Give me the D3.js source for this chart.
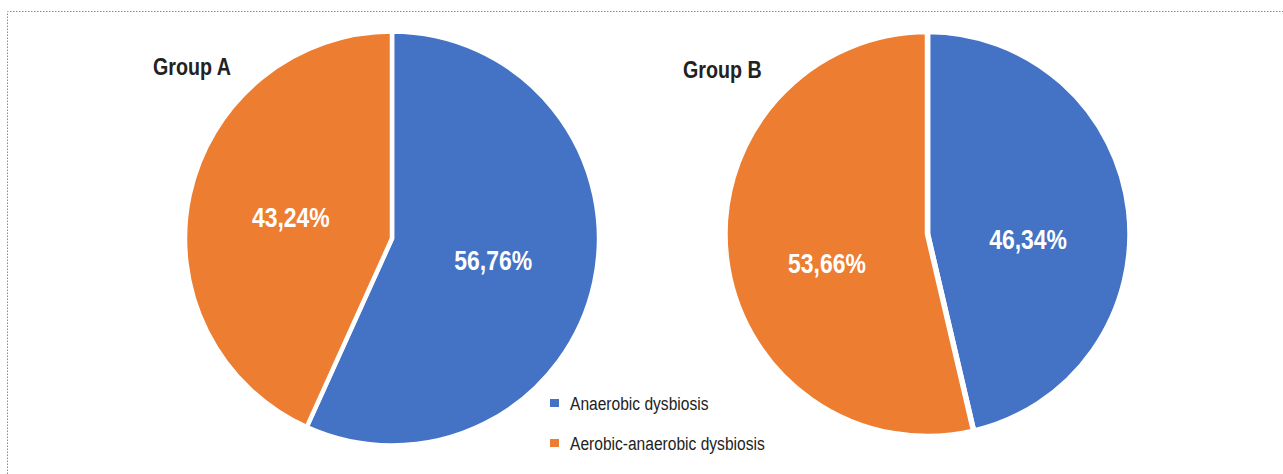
<!DOCTYPE html>
<html>
<head>
<meta charset="utf-8">
<script src="https://cdn.jsdelivr.net/npm/d3@7"></script>
<style>
  html, body { margin: 0; padding: 0; background: #fff; }
  svg { display: block; }
  text { font-family: 'Liberation Sans', Arial, sans-serif; }
</style>
</head>
<body>
<svg id="chart" width="1283" height="474"></svg>
<script>
// Share of dysbiosis types per group (percent)
const categories = ["Anaerobic dysbiosis", "Aerobic-anaerobic dysbiosis"];
const groupNames = ["Group A", "Group B"];
const groupAValues = [56.76, 43.24];
const groupBValues = [46.34, 53.66];
const colors = ["#4472C4", "#ED7D31"];

const svg = d3.select("#chart");
const W = 1283, H = 474;
const NARROW = 0.82; // horizontal squeeze to get a condensed face

// dotted frame around the figure
svg.append("path")
  .attr("d", `M7.5,${H} L7.5,11.5 L${W},11.5`)
  .attr("fill", "none")
  .attr("stroke", "#8a8a8a")
  .attr("stroke-width", 1)
  .attr("stroke-dasharray", "1.5,1.5");

const color = d3.scaleOrdinal().domain(categories).range(colors);
const fmt = v => d3.format(".2f")(v).replace(".", ",") + "%";

// text helper: places a condensed label at (x, y)
function narrowText(parent, x, y) {
  return parent.append("g")
    .attr("transform", `translate(${x},${y}) scale(${NARROW},1)`)
    .append("text");
}

const pies = [
  { name: groupNames[0], values: groupAValues, cx: 392, cy: 238.5, r: 207, gap: 4.5, labelShift: 0, title: [153, 75] },
  { name: groupNames[1], values: groupBValues, cx: 927.5, cy: 234, r: 202.5, gap: 5.5, labelShift: 17, title: [683, 78] }
];

const pie = d3.pie().sort(null).value(d => d.value);

pies.forEach(p => {
  const data = categories.map((c, i) => ({ cat: c, value: p.values[i] }));
  const arcs = pie(data);
  const arc = d3.arc().innerRadius(0).outerRadius(p.r);

  const g = svg.append("g").attr("transform", `translate(${p.cx},${p.cy})`);
  g.selectAll("path.slice")
    .data(arcs)
    .join("path")
    .attr("class", "slice")
    .attr("d", arc)
    .attr("fill", d => color(d.data.cat))
    .attr("stroke", "#fff")
    .attr("stroke-width", p.gap)
    .attr("stroke-linejoin", "miter");

  arcs.forEach(d => {
    const [x, y] = arc.centroid(d);
    narrowText(g, x, y + p.labelShift)
      .attr("text-anchor", "middle")
      .attr("dy", "0.36em")
      .attr("fill", "#fff")
      .attr("font-weight", "bold")
      .attr("font-size", 28)
      .text(fmt(d.data.value));
  });

  narrowText(svg, p.title[0], p.title[1])
    .attr("fill", "#222")
    .attr("font-weight", "bold")
    .attr("font-size", 24)
    .text(p.name);
});

// legend
const legend = svg.append("g").attr("transform", "translate(550,0)");
const legendY = d3.scalePoint().domain(categories).range([403, 443]);
categories.forEach(c => {
  legend.append("rect")
    .attr("x", 0)
    .attr("y", legendY(c) - 4)
    .attr("width", 9)
    .attr("height", 8)
    .attr("fill", color(c));
  narrowText(legend, 20, legendY(c))
    .attr("dy", "0.35em")
    .attr("fill", "#222")
    .attr("font-size", 19)
    .text(c);
});
</script>
</body>
</html>
